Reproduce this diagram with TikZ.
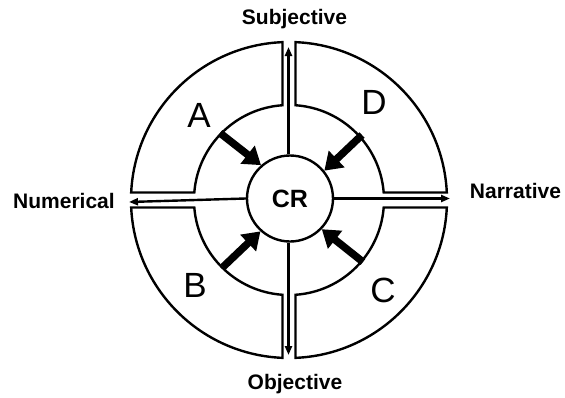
\documentclass[tikz,border=0pt]{standalone}
\usepackage{fontspec}
\setmainfont{Liberation Sans}
\usetikzlibrary{arrows.meta}
\newcommand\quadshape[2]{%
  \begin{scope}[xscale=#1,yscale=#2]
    \draw[outline] ({90+asin(6.5/158)}:158pt)
      arc[start angle={90+asin(6.5/158)}, end angle={180-asin(7.5/158)}, radius=158pt]
      -- ({180-asin(7.5/95)}:95pt)
      arc[start angle={180-asin(7.5/95)}, end angle={90+asin(6.5/95)}, radius=95pt]
      -- cycle;
  \end{scope}}
\begin{document}
\begin{tikzpicture}[x=1pt,y=1pt,
  outline/.style={line width=2.4pt, line join=miter},
  thinarrow/.style={line width=2.4pt, -{Triangle[length=9pt,width=7pt]}},
  bigarrow/.style={line width=7.5pt, -{Triangle[length=17pt,width=22pt]}},
  axislabel/.style={font=\fontsize{21}{25}\selectfont\bfseries, inner sep=0pt},
  quadlabel/.style={font=\fontsize{35}{40}\selectfont, inner sep=0pt},
]
\useasboundingbox (-289,-197) rectangle (276,200);
\fill[white] (-289,-197) rectangle (276,200);

\quadshape{1}{1}
\quadshape{-1}{1}
\quadshape{1}{-1}
\quadshape{-1}{-1}

\node[circle, draw, line width=2.4pt, minimum size=86pt, inner sep=0pt,
      font=\fontsize{25}{30}\selectfont\bfseries] (cr) at (1,1.5) {CR};

\coordinate (subj) at (-0.5,153);
\coordinate (obj) at (-0.5,-155);
\coordinate (num) at (-160,-2);
\coordinate (nar) at (161,1.5);

\draw[thinarrow] (cr.north -| subj) -- (subj);
\draw[thinarrow] (cr.south -| obj) -- (obj);
\draw[thinarrow] (cr.west) -- (num);
\draw[thinarrow] (cr.east) -- (nar);

\coordinate (sa) at (-69,67);
\coordinate (sd) at (73,65);
\coordinate (sb) at (-66,-67);
\coordinate (sc) at (74,-62);
\draw[bigarrow] (sa) -- (cr.131);
\draw[bigarrow] (sd) -- (cr.39);
\draw[bigarrow] (sb) -- (cr.228);
\draw[bigarrow] (sc) -- (cr.316);

\node[axislabel, anchor=base] (lsubj) at (5.5,176) {Subjective};
\node[axislabel, anchor=base] (lobj) at (6,-189) {Objective};
\node[axislabel, anchor=base] (lnum) at (-225,-8) {Numerical};
\node[axislabel, anchor=base] (lnar) at (226.5,2) {Narrative};

\node[quadlabel] (la) at (-90,85) {A};
\node[quadlabel] (ld) at (85,97.5) {D};
\node[quadlabel] (lb) at (-94,-85) {B};
\node[quadlabel] (lc) at (94,-90) {C};
\end{tikzpicture}
\end{document}
